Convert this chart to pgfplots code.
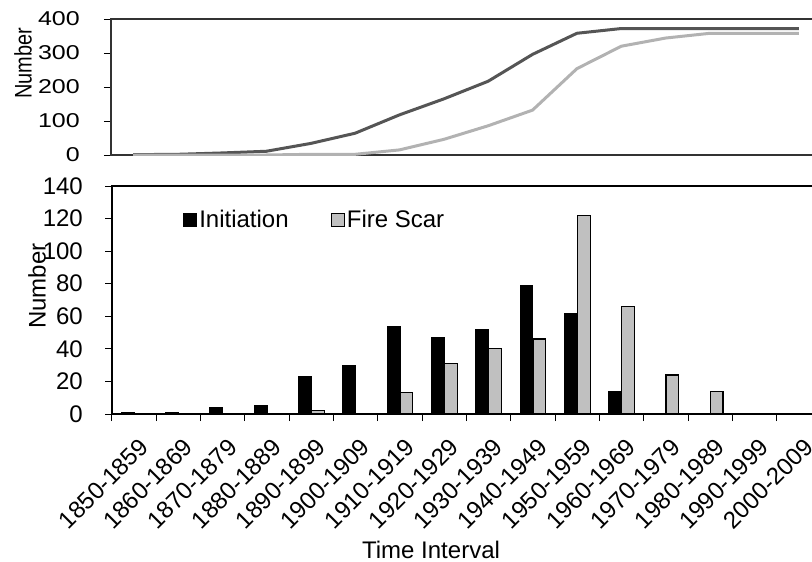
\documentclass[border=0pt]{standalone}
\usepackage{fontspec}
\setmainfont{Liberation Sans}
\usepackage{pgfplots}
\pgfplotsset{compat=1.18}
\definecolor{darkline}{RGB}{85,85,85}
\definecolor{lightline}{RGB}{178,178,178}
\definecolor{scargray}{RGB}{192,192,192}
\begin{document}
\begin{tikzpicture}[font=\fontsize{24}{28}\selectfont]
\useasboundingbox (0pt,0pt) rectangle (812pt,-562pt);
% ---------- top panel: cumulative numbers ----------
\begin{axis}[
  at={(111pt,-155pt)}, anchor=south west,
  scale only axis, width=710pt, height=136pt,
  xmin=-0.5, xmax=15.5, ymin=0, ymax=400,
  ytick={0,100,200,300,400}, xtick=\empty,
  tick align=outside, ytick pos=left, major tick length=7pt,
  tick style={black, line width=1pt},
  axis line style={black!80, line width=1.2pt},
  /pgf/number format/assume math mode=true,
  yticklabel style={inner sep=0pt, anchor=east, xshift=-24pt, yscale=0.8, font=\fontsize{25}{28}\selectfont},
  ylabel={Number},
  every axis y label/.style={at={(axis description cs:0,0.676)}, xshift=-88pt, rotate=90, xscale=0.83, anchor=center, font=\fontsize{24}{28}\selectfont},
]
\addplot[darkline, line width=3pt] coordinates {
  (0,1) (1,2) (2,6) (3,11) (4,34) (5,64) (6,118) (7,165)
  (8,217) (9,296) (10,358) (11,372) (12,372) (13,372) (14,372) (15,372)};
\addplot[lightline, line width=3pt] coordinates {
  (0,0) (1,0) (2,0) (3,0) (4,2) (5,2) (6,15) (7,46)
  (8,86) (9,132) (10,254) (11,320) (12,344) (13,358) (14,358) (15,358)};
\end{axis}
% ---------- bottom panel: numbers per interval ----------
\begin{axis}[
  at={(112pt,-414pt)}, anchor=south west,
  scale only axis, width=709pt, height=228pt,
  xmin=-0.5, xmax=15.5, ymin=0, ymax=140,
  ytick={0,20,...,140},
  xtick={0,1,...,15},
  xticklabels={1850-1859,1860-1869,1870-1879,1880-1889,1890-1899,1900-1909,1910-1919,1920-1929,1930-1939,1940-1949,1950-1959,1960-1969,1970-1979,1980-1989,1990-1999,2000-2009},
  xticklabel style={inner sep=0pt, anchor=east, xshift=10pt, yshift=-22pt, rotate=45},
  minor xtick={-0.5,0.5,...,15.5},
  major x tick style={draw=none},
  minor x tick style={black, line width=1pt},
  minor tick length=7pt,
  tick align=outside, xtick pos=bottom, ytick pos=left, major tick length=7pt,
  tick style={black, line width=1pt},
  axis line style={black, line width=1.3pt},
  /pgf/number format/assume math mode=true,
  yticklabel style={inner sep=0pt, anchor=east, xshift=-22pt},
  ybar=0pt, bar width=0.29,
  ylabel={Number},
  every axis y label/.style={at={(axis description cs:0,0.561)}, xshift=-75pt, rotate=90, anchor=center},
  xlabel={Time Interval},
  every axis x label/.style={at={(axis description cs:0.45,0)}, anchor=center, yshift=-136pt},
  legend style={at={(axis description cs:0.096,0.851)}, anchor=west, draw=none, fill=none,
    legend columns=2, /tikz/every even column/.append style={column sep=40pt},
    font=\fontsize{24}{28}\selectfont},
  legend image code/.code={\draw[#1] (0pt,-6.5pt) rectangle (13pt,6.5pt);},
]
\addplot[draw=black, fill=black, line width=1pt] coordinates {
  (0,1) (1,1) (2,4) (3,5) (4,23) (5,30) (6,54) (7,47)
  (8,52) (9,79) (10,62) (11,14)};
\addplot[draw=black, fill=scargray, line width=1.2pt] coordinates {
  (4,2) (6,13) (7,31) (8,40) (9,46) (10,122) (11,66) (12,24) (13,14)};
\legend{Initiation, Fire Scar}
\end{axis}
\end{tikzpicture}
\end{document}
